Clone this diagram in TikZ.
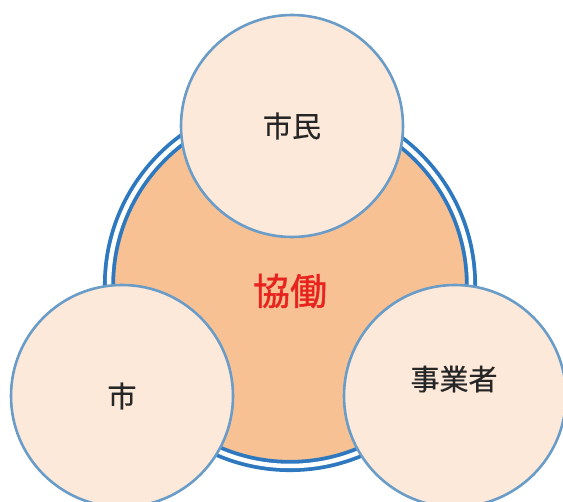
\documentclass[tikz,border=0pt]{standalone}
\usepackage{fontspec}
\newfontfamily\jpfont[FakeBold=0.6]{Noto Sans CJK JP}
\newfontfamily\jpboldfont[FakeBold=1.2]{Noto Sans CJK JP}
\definecolor{ringblue}{HTML}{2E78C0}
\definecolor{edgeblue}{HTML}{6A9CC8}
\definecolor{bigfill}{HTML}{F8C194}
\definecolor{smallfill}{HTML}{FDE9DA}
\definecolor{kyored}{HTML}{E8231E}
\tikzset{
  member/.style={circle, fill=smallfill, draw=edgeblue, line width=2.6pt, minimum size=222pt, inner sep=0pt, font=\jpfont\fontsize{29}{34}\selectfont, text=black!85},
}
\begin{document}
\begin{tikzpicture}[x=1pt,y=-1pt]
\useasboundingbox (0,0) rectangle (563,502);
\clip (0,0) rectangle (563,502);
% central collaboration circle
\node (hub) [circle, minimum size=362pt, inner sep=0pt, fill=bigfill, draw=ringblue, line width=3.8pt, double=white, double distance=4.5pt] at (290,285) {};
\node (kyodo) [font=\jpboldfont\fontsize{37}{42}\selectfont, text=kyored] at (290,291) {協働};
% member circles
\node (shimin) [member] at (292,126) {市民};
\node (shi) [member] at (122,396) {市};
\node (jigyo) [member] at (455,396) {};
\node (jigyolabel) [font=\jpfont\fontsize{29}{34}\selectfont, text=black!85] at (454,379) {事業者};
\end{tikzpicture}
\end{document}
